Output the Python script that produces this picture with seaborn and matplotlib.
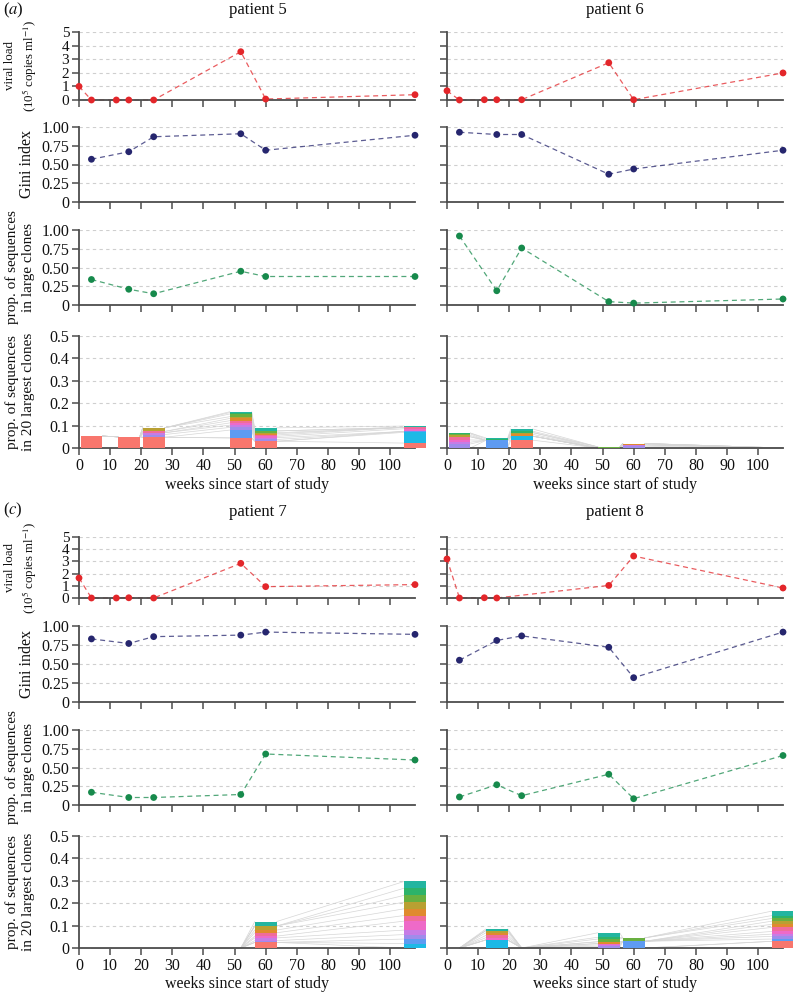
import matplotlib
matplotlib.use('Agg')
import matplotlib.pyplot as plt
import seaborn as sns
import numpy as np
import pandas as pd

# ---- data ----
sample_weeks = [4, 16, 24, 52, 60, 108]

vl_weeks_p5 = [0, 4, 12, 16, 24, 52, 60, 108]
vl_p5 = [1.0, 0.0, 0.0, 0.0, 0.0, 3.55, 0.07, 0.39]
gini_p5 = [0.57, 0.67, 0.87, 0.91, 0.69, 0.89]
large_p5 = [0.34, 0.21, 0.15, 0.45, 0.38, 0.38]

vl_weeks_p6 = [0, 4, 12, 16, 24, 52, 60, 108]
vl_p6 = [0.68, 0.0, 0.02, 0.02, 0.02, 2.74, 0.02, 1.99]
gini_p6 = [0.93, 0.90, 0.90, 0.37, 0.44, 0.69]
large_p6 = [0.92, 0.19, 0.76, 0.045, 0.025, 0.08]

vl_weeks_p7 = [0, 4, 12, 16, 24, 52, 60, 108]
vl_p7 = [1.64, 0.0, 0.0, 0.02, 0.0, 2.84, 0.93, 1.1]
gini_p7 = [0.83, 0.77, 0.86, 0.88, 0.92, 0.89]
large_p7 = [0.17, 0.10, 0.10, 0.14, 0.68, 0.60]

vl_weeks_p8 = [0, 4, 12, 16, 52, 60, 108]
vl_p8 = [3.2, 0.0, 0.02, 0.0, 1.03, 3.44, 0.82]
gini_p8 = [0.55, 0.81, 0.87, 0.72, 0.32, 0.92]
large_p8 = [0.107, 0.27, 0.124, 0.41, 0.084, 0.66]

# proportion of sequences of each tracked clone (columns) per sample (rows)
clone_colors = ['#F8766D', '#1CB9E6', '#5E9BF2', '#9F8CEB', '#C77CE6', '#EE6AC8',
                '#F06C9A', '#E08A2E', '#B9A032', '#69B040', '#2DB36A', '#22B5A0']

clones_p5 = [
    [0.053, 0, 0, 0, 0, 0, 0, 0, 0, 0, 0, 0],
    [0.050, 0, 0, 0, 0, 0, 0, 0, 0, 0, 0, 0],
    [0.048, 0, 0, 0.012, 0.008, 0, 0.006, 0, 0.016, 0, 0, 0],
    [0.045, 0, 0.035, 0.012, 0.010, 0.010, 0.010, 0.010, 0.008, 0.012, 0.006, 0.004],
    [0.030, 0, 0, 0.008, 0.008, 0.006, 0.006, 0.006, 0.004, 0.008, 0, 0.014],
    [0.022, 0.048, 0.004, 0, 0, 0.012, 0.006, 0, 0, 0, 0, 0.006],
]
clones_p6 = [
    [0, 0, 0, 0.018, 0.008, 0.010, 0.014, 0, 0.006, 0.007, 0.004, 0],
    [0, 0, 0.034, 0, 0, 0, 0, 0, 0, 0, 0.006, 0.005],
    [0.035, 0.018, 0, 0, 0, 0, 0, 0.008, 0.008, 0, 0.006, 0.010],
    [0, 0, 0, 0, 0, 0, 0, 0, 0, 0.005, 0, 0],
    [0, 0, 0, 0.008, 0.006, 0, 0, 0.006, 0, 0, 0, 0],
    [0, 0, 0, 0, 0, 0, 0, 0, 0, 0, 0, 0],
]
clones_p7 = [
    [0, 0, 0, 0, 0, 0, 0, 0, 0, 0, 0, 0],
    [0, 0, 0, 0, 0, 0, 0, 0, 0, 0, 0, 0],
    [0, 0, 0, 0, 0, 0, 0, 0, 0, 0, 0, 0],
    [0, 0, 0, 0, 0, 0, 0, 0, 0, 0, 0, 0],
    [0.025, 0, 0, 0.008, 0.012, 0.008, 0.015, 0.012, 0.018, 0, 0, 0.020],
    [0, 0.020, 0.020, 0.020, 0.020, 0.040, 0.025, 0.030, 0.030, 0.030, 0.032, 0.030],
]
clones_p8 = [
    [0, 0, 0, 0, 0, 0, 0, 0, 0, 0, 0, 0],
    [0, 0.036, 0, 0, 0, 0.010, 0.010, 0.012, 0.010, 0, 0, 0.007],
    [0, 0, 0, 0, 0, 0, 0, 0, 0, 0, 0, 0],
    [0, 0, 0, 0.008, 0.006, 0.006, 0, 0.008, 0, 0.012, 0.008, 0.020],
    [0, 0, 0.030, 0, 0, 0, 0, 0, 0, 0.015, 0, 0],
    [0.030, 0, 0.010, 0.012, 0.010, 0.012, 0.018, 0.014, 0.014, 0.012, 0.013, 0.020],
]

patients = [
    ('patient 5', vl_weeks_p5, vl_p5, gini_p5, large_p5, clones_p5),
    ('patient 6', vl_weeks_p6, vl_p6, gini_p6, large_p6, clones_p6),
    ('patient 7', vl_weeks_p7, vl_p7, gini_p7, large_p7, clones_p7),
    ('patient 8', vl_weeks_p8, vl_p8, gini_p8, large_p8, clones_p8),
]

RED, NAVY, GREEN = '#E3262A', '#26266E', '#178A4C'
SPINE = '#4d4d4d'
BAR_W = 7

sns.set_theme(style='white')
plt.rcParams['font.family'] = ['Liberation Serif', 'DejaVu Serif']
plt.rcParams['mathtext.fontset'] = 'stix'

W, H = 793, 994
fig = plt.figure(figsize=(W / 100, H / 100), dpi=100)


def px_axes(x0, x1, ytop, ybot):
    return fig.add_axes([x0 / W, 1 - ybot / H, (x1 - x0) / W, (ybot - ytop) / H])


cols = [(79, 415), (447, 783)]
row_sets = [[(32, 100), (127, 202), (230, 305), (336, 448)],
            [(537, 598), (626, 702), (730, 805), (836, 948)]]

ylabels = ['viral load\n(10$^{5}$ copies ml$^{-1}$)', 'Gini index',
           'prop. of sequences\nin large clones', 'prop. of sequences\nin 20 largest clones']
ylabel_sizes = [9.3, 11.5, 11, 11]
ylabel_x = [-0.12, -0.132, -0.132, -0.132]
tick_sizes = [11, 11.5, 11.5, 11.5]
yticks = [([0, 1, 2, 3, 4, 5], ['0', '1', '2', '3', '4', '5'], 5),
          ([0, 0.25, 0.5, 0.75, 1.0], ['0', '0.25', '0.50', '0.75', '1.00'], 1),
          ([0, 0.25, 0.5, 0.75, 1.0], ['0', '0.25', '0.50', '0.75', '1.00'], 1),
          ([0, 0.1, 0.2, 0.3, 0.4, 0.5], ['0', '0.1', '0.2', '0.3', '0.4', '0.5'], 0.5)]


def style_axis(ax, r, left, bottom_row):
    sns.despine(ax=ax)
    for s in ['left', 'bottom']:
        ax.spines[s].set_color(SPINE)
        ax.spines[s].set_linewidth(1.3)
    ax.set_xlim(0, 108)
    ticks, labels, top = yticks[r]
    ax.set_ylim(0, top)
    ax.set_yticks(ticks)
    ax.set_xticks(range(0, 101, 10))
    ax.tick_params(direction='out', length=5, width=1.1, color=SPINE, labelsize=11.5,
                   pad=2, bottom=True, left=True, labelcolor='#111111')
    ax.tick_params(axis='y', labelsize=tick_sizes[r])
    for t in ticks[1:]:
        ax.axhline(t, color='#cfcfcf', lw=0.8, ls=(0, (3, 3)), zorder=0)
    ax.grid(False)
    if left:
        ax.set_yticklabels(labels)
        ax.set_ylabel(ylabels[r], fontsize=ylabel_sizes[r], linespacing=1.25, color='#111111')
        ax.yaxis.set_label_coords(ylabel_x[r], 0.5)
    else:
        ax.set_yticklabels([])
        ax.set_ylabel('')
    if bottom_row:
        ax.set_xticklabels([str(v) for v in range(0, 101, 10)])
        ax.set_xlabel('weeks since start of study', fontsize=11.5, color='#111111', labelpad=2)
    else:
        ax.set_xticklabels([])
        ax.set_xlabel('')


def series(ax, x, y, color):
    df = pd.DataFrame({'week': x, 'value': y})
    sns.lineplot(data=df, x='week', y='value', ax=ax, color=color, lw=0.9,
                 linestyle=(0, (4, 3)), alpha=0.75, sort=False, estimator=None,
                 clip_on=False)
    sns.scatterplot(data=df, x='week', y='value', ax=ax, color=color, s=24,
                    edgecolor='none', clip_on=False, zorder=5)


for p, (name, vl_w, vl, gini, large, clones) in enumerate(patients):
    block, c = divmod(p, 2)
    x0, x1 = cols[c]
    rows = row_sets[block]
    axs = [px_axes(x0, x1, yt, yb) for yt, yb in rows]

    series(axs[0], vl_w, vl, RED)
    series(axs[1], sample_weeks, gini, NAVY)
    series(axs[2], sample_weeks, large, GREEN)

    # stacked clone bars and connecting lines
    ax = axs[3]
    mat = np.array(clones)
    tops = np.cumsum(mat, axis=1)
    totals = mat.sum(axis=1)
    lefts = [w - BAR_W / 2 if t > 0 else w for w, t in zip(sample_weeks, totals)]
    rights = [w + BAR_W / 2 if t > 0 else w for w, t in zip(sample_weeks, totals)]
    for i in range(len(sample_weeks) - 1):
        for k in range(mat.shape[1]):
            ax.plot([rights[i], lefts[i + 1]], [tops[i, k], tops[i + 1, k]],
                    color='#d6d6d6', lw=0.5, zorder=1, clip_on=False)
    for i, w in enumerate(sample_weeks):
        bottom = 0
        for k, v in enumerate(mat[i]):
            if v > 0:
                ax.bar(w, v, width=BAR_W, bottom=bottom, color=clone_colors[k],
                       edgecolor='none', zorder=3, clip_on=False)
            bottom += v

    for r, a in enumerate(axs):
        style_axis(a, r, left=(c == 0), bottom_row=(r == 3))

    title_x = 258 if c == 0 else 615
    title_y = 10 if block == 0 else 512
    fig.text(title_x / W, 1 - title_y / H, name, ha='center', va='center', fontsize=12,
             color='#111111')

fig.text(3 / W, 1 - 10 / H, '($a$)', ha='left', va='center', fontsize=12, color='#111111')
fig.text(3 / W, 1 - 510 / H, '($c$)', ha='left', va='center', fontsize=12, color='#111111')

fig.savefig('out.png', dpi=100, facecolor='white')
